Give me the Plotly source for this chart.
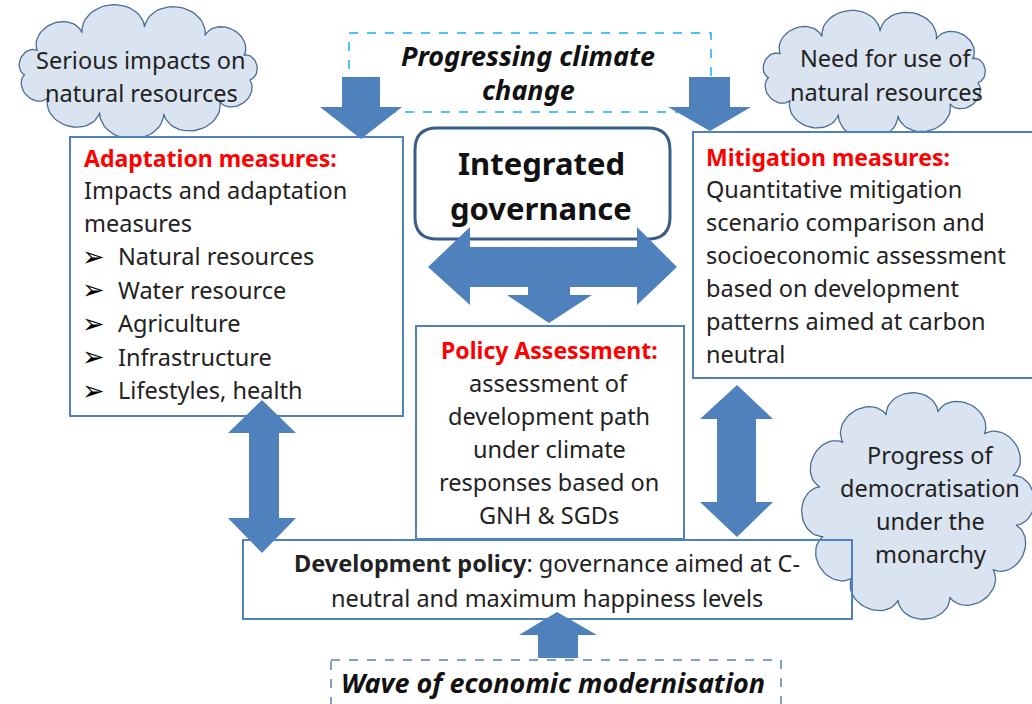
import numpy as np
import plotly.graph_objects as go

# ---- texts of the diagram ----
top_driver = ["Progressing climate", "change"]
bottom_driver = ["Wave of economic modernisation"]
cloud_left = ["Serious impacts on", "natural resources"]
cloud_right = ["Need for use of", "natural resources"]
cloud_bottom = ["Progress of", "democratisation", "under the", "monarchy"]
core_lines = ["Integrated", "governance"]
adapt_title = "Adaptation measures:"
adapt_lines = ["Impacts and adaptation", "measures"]
adapt_items = ["Natural resources", "Water resource", "Agriculture", "Infrastructure", "Lifestyles, health"]
mitig_title = "Mitigation measures:"
mitig_lines = ["Quantitative mitigation", "scenario comparison and", "socioeconomic assessment",
               "based on development", "patterns aimed at carbon", "neutral"]
policy_title = "Policy Assessment:"
policy_lines = ["assessment of", "development path", "under climate", "responses based on", "GNH & SGDs"]
dev_lines = ["<b>Development policy</b>: governance aimed at C-", "neutral and maximum happiness levels"]

BLUE = "#4F81BD"
TXT = "#222222"
FONT = "Noto Sans, DejaVu Sans, sans-serif"
FS = 23.5


def cloud_xy(cx, cy, rx, ry, n, k=0.8, phase=0.2):
    ang = np.linspace(0, 2 * np.pi, n + 1) + phase
    px, py = cx + rx * np.cos(ang), cy + ry * np.sin(ang)
    xs, ys = [], []
    s = np.linspace(0, np.pi, 24)
    for i in range(n):
        x0, y0, x1, y1 = px[i], py[i], px[i + 1], py[i + 1]
        mx, my = (x0 + x1) / 2, (y0 + y1) / 2
        L = np.hypot(x1 - x0, y1 - y0)
        ux, uy = (x1 - x0) / L, (y1 - y0) / L
        nx, ny = uy, -ux
        if nx * (mx - cx) + ny * (my - cy) < 0:
            nx, ny = -nx, -ny
        xs += list(mx - np.cos(s) * L / 2 * ux + np.sin(s) * k * L / 2 * nx)
        ys += list(my - np.cos(s) * L / 2 * uy + np.sin(s) * k * L / 2 * ny)
    return xs + xs[:1], ys + ys[:1]


def poly(pts):
    return "M" + " L".join(f"{x},{y}" for x, y in pts) + " Z"


def rounded(x0, y0, x1, y1, r):
    return (f"M{x0+r},{y0} L{x1-r},{y0} Q{x1},{y0} {x1},{y0+r} L{x1},{y1-r} Q{x1},{y1} {x1-r},{y1} "
            f"L{x0+r},{y1} Q{x0},{y1} {x0},{y1-r} L{x0},{y0+r} Q{x0},{y0} {x0+r},{y0} Z")


fig = go.Figure()

# clouds
for cx, cy, rx, ry, n in [(138, 71, 114, 44, 11), (874, 74, 106, 43, 11), (918, 506, 100, 96, 12)]:
    xs, ys = cloud_xy(cx, cy, rx, ry, n)
    fig.add_trace(go.Scatter(x=xs, y=ys, mode="lines", fill="toself", fillcolor="#DAE3F0",
                             line=dict(color="#4A6D96", width=1.3), hoverinfo="skip", showlegend=False))

shapes = []
# boxes
shapes.append(dict(type="rect", x0=70, y0=137, x1=403, y1=416, line=dict(color=BLUE, width=2), fillcolor="white"))
shapes.append(dict(type="rect", x0=693, y0=132, x1=1045, y1=378, line=dict(color=BLUE, width=2), fillcolor="white"))
shapes.append(dict(type="rect", x0=416, y0=326, x1=684, y1=539, line=dict(color=BLUE, width=2), fillcolor="white"))
shapes.append(dict(type="rect", x0=243, y0=540, x1=852, y1=619, line=dict(color=BLUE, width=2)))
shapes.append(dict(type="rect", x0=349, y0=33, x1=711, y1=112, line=dict(color="#19AEEF", width=1.5, dash="dash")))
shapes.append(dict(type="rect", x0=331, y0=660, x1=781, y1=710, line=dict(color="#5B7FBA", width=1.5, dash="dash")))
shapes.append(dict(type="path", path=rounded(415, 128, 670, 239, 22), line=dict(color="#385D8A", width=3),
                   fillcolor="white"))

# arrows
arrows = [
    [(342, 77), (380, 77), (380, 107), (402, 107), (361, 139), (320, 107), (342, 107)],
    [(689, 77), (730, 77), (730, 107), (751, 107), (710, 131), (668, 107), (689, 107)],
    [(428, 267), (470, 227), (470, 247), (637, 247), (637, 227), (677, 267), (637, 305), (637, 287),
     (570, 287), (570, 295), (592, 295), (549, 323), (507, 295), (528, 295), (528, 287), (470, 287), (470, 305)],
    [(262, 400), (296, 433), (279, 433), (279, 518), (296, 518), (262, 553), (228, 518), (249, 518),
     (249, 433), (228, 433)],
    [(737, 385), (773, 419), (756, 419), (756, 502), (773, 502), (737, 537), (700, 502), (717, 502),
     (717, 419), (700, 419)],
    [(557, 612), (597, 635), (578, 635), (578, 658), (538, 658), (538, 635), (519, 635)],
]
for a in arrows:
    shapes.append(dict(type="path", path=poly(a), fillcolor=BLUE, line=dict(width=0)))

for sh in shapes:
    sh.update(xref="x", yref="y")

ann = []


def txt(x, y, text, anchor="center", size=FS, color=TXT, family=FONT):
    ann.append(dict(x=x, y=y, text=text, xref="x", yref="y", showarrow=False, xanchor=anchor,
                    yanchor="middle", font=dict(family=family, size=size, color=color)))


for i, t in enumerate(top_driver):
    txt(528, 55 + i * 34, f"<b><i>{t}</i></b>", size=27, color="#111111")
txt(553, 682, f"<b><i>{bottom_driver[0]}</i></b>", size=27, color="#111111")
for i, t in enumerate(cloud_left):
    txt(141, 60 + i * 33, t)
for i, t in enumerate(cloud_right):
    txt(886, 58 + i * 34, t)
for i, t in enumerate(cloud_bottom):
    txt(930, 455 + i * 33, t)
for i, t in enumerate(core_lines):
    txt(541, 163 + i * 45, f"<b>{t}</b>", size=31, color="#111111")

txt(82, 158, f"<b>{adapt_title}</b>", anchor="left", size=23, color="#FF0000")
for i, t in enumerate(adapt_lines):
    txt(82, 190 + i * 33, t, anchor="left")
for i, t in enumerate(adapt_items):
    txt(80, 256 + i * 33.5, "<b>➢</b>", anchor="left", size=27, color="#000000", family="DejaVu Sans")
    txt(116, 256 + i * 33.5, t, anchor="left")

txt(704, 157, f"<b>{mitig_title}</b>", anchor="left", size=23, color="#FF0000")
for i, t in enumerate(mitig_lines):
    txt(704, 189 + i * 33, t, anchor="left")

txt(549, 350, f"<b>{policy_title}</b>", size=23, color="#FF0000")
for i, t in enumerate(policy_lines):
    txt(549, 383 + i * 33, t)

for i, t in enumerate(dev_lines):
    txt(547, 563 + i * 35, t)

fig.update_layout(
    width=1032, height=704, margin=dict(l=0, r=0, t=0, b=0),
    paper_bgcolor="white", plot_bgcolor="white",
    xaxis=dict(range=[0, 1032], visible=False, fixedrange=True),
    yaxis=dict(range=[704, 0], visible=False, fixedrange=True),
    shapes=shapes, annotations=ann, showlegend=False,
)
# drop the default page margin so the figure sits at the window's corner
fig.write_html("out.html", config={"displayModeBar": False},
               post_script="document.body.style.margin='0';")
